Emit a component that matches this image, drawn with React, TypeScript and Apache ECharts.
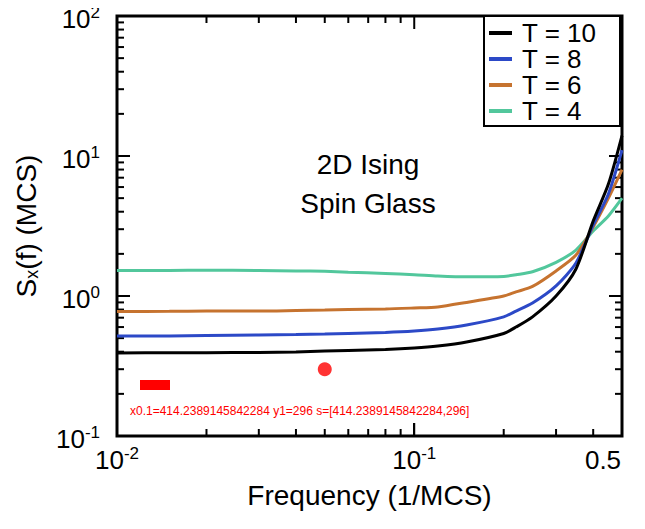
import React, { useEffect, useRef } from "react";
import * as echarts from "echarts";

const freq = [0.01, 0.015, 0.02, 0.03, 0.04, 0.05, 0.06, 0.08, 0.1, 0.12, 0.15, 0.2, 0.22, 0.25, 0.3, 0.35, 0.4, 0.45, 0.5];
const sT10 = [0.392, 0.393, 0.394, 0.395, 0.398, 0.404, 0.408, 0.415, 0.425, 0.439, 0.469, 0.54, 0.6, 0.71, 1.0, 1.56, 3.43, 6.3, 14.0];
const sT8 = [0.518, 0.519, 0.522, 0.527, 0.531, 0.535, 0.54, 0.549, 0.562, 0.581, 0.621, 0.71, 0.78, 0.89, 1.18, 1.72, 3.21, 5.35, 11.0];
const sT6 = [0.775, 0.777, 0.781, 0.781, 0.788, 0.794, 0.801, 0.807, 0.821, 0.835, 0.9, 1.0, 1.07, 1.17, 1.51, 1.96, 3.11, 5.0, 8.0];
const sT4 = [1.52, 1.52, 1.53, 1.52, 1.51, 1.5, 1.48, 1.45, 1.42, 1.39, 1.37, 1.38, 1.42, 1.49, 1.74, 2.13, 2.91, 3.73, 5.0];

const seriesNames = ["T = 10", "T = 8", "T = 6", "T = 4"];
const seriesColors = ["#000000", "#2c49c7", "#c6732f", "#52c79c"];
const seriesValues = [sT10, sT8, sT6, sT4];

const xMin = 0.01;
const xMax = 0.5;
const yMin = 0.1;
const yMax = 100;
const yDecades = [0.1, 1, 10];
const xDecades = [0.01, 0.1];
const annotationLines = ["2D Ising", "Spin Glass"];

const FONT = "Liberation Sans, Arial, Helvetica, sans-serif";

function supLabel(v: number) {
  if (Math.abs(v - 0.5) < 1e-6) return "{r|0.5}";
  const e = Math.round(Math.log10(v));
  return "10{sup|" + e + "}";
}

function buildTickData() {
  const out: any[] = [];
  const MAJOR = 13;
  const MINOR = 7;
  for (const d of yDecades) {
    for (let k = 1; k <= 9; k++) {
      const len = k === 1 ? MAJOR : MINOR;
      const v = d * k;
      out.push({ value: [xMin, v], symbolSize: [len, 2], symbolOffset: [len / 2, 0] });
      out.push({ value: [xMax, v], symbolSize: [len, 2], symbolOffset: [-len / 2, 0] });
    }
  }
  for (const d of xDecades) {
    for (let k = 1; k <= 9; k++) {
      const v = d * k;
      if (v >= xMax - 1e-9) continue;
      const len = k === 1 ? MAJOR : MINOR;
      out.push({ value: [v, yMin], symbolSize: [2, len], symbolOffset: [0, -len / 2] });
      out.push({ value: [v, yMax], symbolSize: [2, len], symbolOffset: [0, len / 2] });
    }
  }
  return out;
}

export default function App() {
  const ref = useRef<HTMLDivElement>(null);
  useEffect(() => {
    if (!ref.current) return;
    const chart = echarts.init(ref.current, undefined, { renderer: "svg" });
    const lineSeries = seriesNames
      .map((name, i) => ({
        name,
        type: "line",
        data: freq.map((f, j) => [f, seriesValues[i][j]]),
        showSymbol: false,
        smooth: 0.25,
        lineStyle: { color: seriesColors[i], width: 3 },
        itemStyle: { color: seriesColors[i] },
        z: 10 - i,
      }))
      .reverse();
    const staticEls: any[] = [
      ...annotationLines.map((t, i) => ({
        type: "text",
        id: "ann" + i,
        x: 368,
        y: 164 + i * 39,
        z: 5,
        style: { text: t, fill: "#000", font: "28px " + FONT, textAlign: "center", textVerticalAlign: "middle" },
      })),
      {
        type: "rect",
        id: "legendFrame",
        z: 15,
        silent: true,
        shape: { x: 484, y: 16, width: 136, height: 110 },
        style: { fill: "#fff", stroke: "#000", lineWidth: 2 },
      },
      { type: "rect", id: "dbgRect", x: 140, y: 380, shape: { x: 0, y: 0, width: 30, height: 10 }, style: { fill: "red" } },
    ];
    const option: any = {
      animation: false,
      backgroundColor: "#fff",
      grid: {
        left: 117,
        top: 16,
        right: 23,
        bottom: 93,
        show: true,
        borderColor: "#000",
        borderWidth: 3,
        backgroundColor: "transparent",
        outerBoundsMode: "none",
        containLabel: false,
      },
      xAxis: {
        type: "log",
        logBase: 10,
        min: xMin,
        max: xMax,
        axisLine: { show: false },
        axisTick: { show: true, inside: true, length: 13, lineStyle: { color: "#000", width: 2 } },
        splitLine: { show: false },
        minorTick: { show: false },
        axisLabel: {
          showMaxLabel: true,
          showMinLabel: true,
          color: "#000",
          fontFamily: FONT,
          fontSize: 26,
          lineHeight: 30,
          margin: 9,
          formatter: supLabel,
          rich: {
            sup: { fontSize: 17, lineHeight: 16, verticalAlign: "top", fontFamily: FONT, color: "#000" },
            r: { fontSize: 26, fontFamily: FONT, color: "#000", padding: [0, 38, 0, 0] },
          },
        },
        name: "Frequency (1/MCS)",
        nameLocation: "middle",
        nameGap: 45,
        nameTextStyle: { color: "#000", fontFamily: FONT, fontSize: 28 },
      },
      yAxis: {
        type: "log",
        logBase: 10,
        min: yMin,
        max: yMax,
        axisLine: { show: false },
        axisTick: { show: true, inside: true, length: 13, lineStyle: { color: "#000", width: 2 } },
        splitLine: { show: false },
        minorTick: { show: false },
        axisLabel: {
          color: "#000",
          fontFamily: FONT,
          fontSize: 26,
          lineHeight: 30,
          margin: 17,
          padding: [6, 0, 0, 0],
          formatter: supLabel,
          rich: { sup: { fontSize: 17, lineHeight: 16, verticalAlign: "top", fontFamily: FONT, color: "#000" } },
        },
        name: "S{sub|x}(f) (MCS)",
        nameLocation: "middle",
        nameRotate: 90,
        nameGap: 76,
        nameTextStyle: {
          color: "#000",
          fontFamily: FONT,
          fontSize: 28,
          rich: { sub: { fontSize: 18, verticalAlign: "bottom", lineHeight: 30, fontFamily: FONT, color: "#000", padding: [10, 0, 0, 0] } },
        },
      },
      legend: {
        orient: "vertical",
        left: 484,
        top: 16,
        padding: [4, 10, 3, 5],
        itemGap: 0,
        itemWidth: 23,
        itemHeight: 4,
        icon: "rect",
        backgroundColor: "transparent",
        borderWidth: 0,
        data: seriesNames,
        z: 20,
        textStyle: { color: "#000", fontFamily: FONT, fontSize: 26, lineHeight: 26, padding: [0, 0, 0, 5] },
      },
      graphic: { elements: staticEls },
      series: [
        ...lineSeries,
        {
          name: "axisTicks",
          type: "scatter",
          symbol: "rect",
          silent: true,
          clip: false,
          z: 3,
          itemStyle: { color: "#000", opacity: 1 },
          data: buildTickData(),
        },
        {
          name: "dbgScatter",
          type: "scatter",
          symbol: "circle",
          symbolSize: 14,
          itemStyle: { color: "red" },
          data: [[0.05, 0.3]],
        },
      ],
    };
    chart.setOption(option);
    let info = "";
    try {
      const a = chart.convertToPixel({ xAxisIndex: 0 }, 0.1);
      const b = chart.convertToPixel({ yAxisIndex: 0 }, 1);
      const c = chart.convertToPixel({ seriesIndex: 0 }, [0.1, 1]);
      info = "x0.1=" + JSON.stringify(a) + " y1=" + JSON.stringify(b) + " s=" + JSON.stringify(c);
    } catch (e: any) {
      info = "err " + String(e && e.message);
    }
    chart.setOption({
      graphic: {
        elements: [
          ...staticEls,
          { type: "text", id: "dbgText", x: 130, y: 405, style: { text: info, fill: "red", font: "12px sans-serif" } },
        ],
      },
    });
    return () => chart.dispose();
  }, []);
  return <div ref={ref} style={{ width: 645, height: 529, margin: -8 }} />;
}
